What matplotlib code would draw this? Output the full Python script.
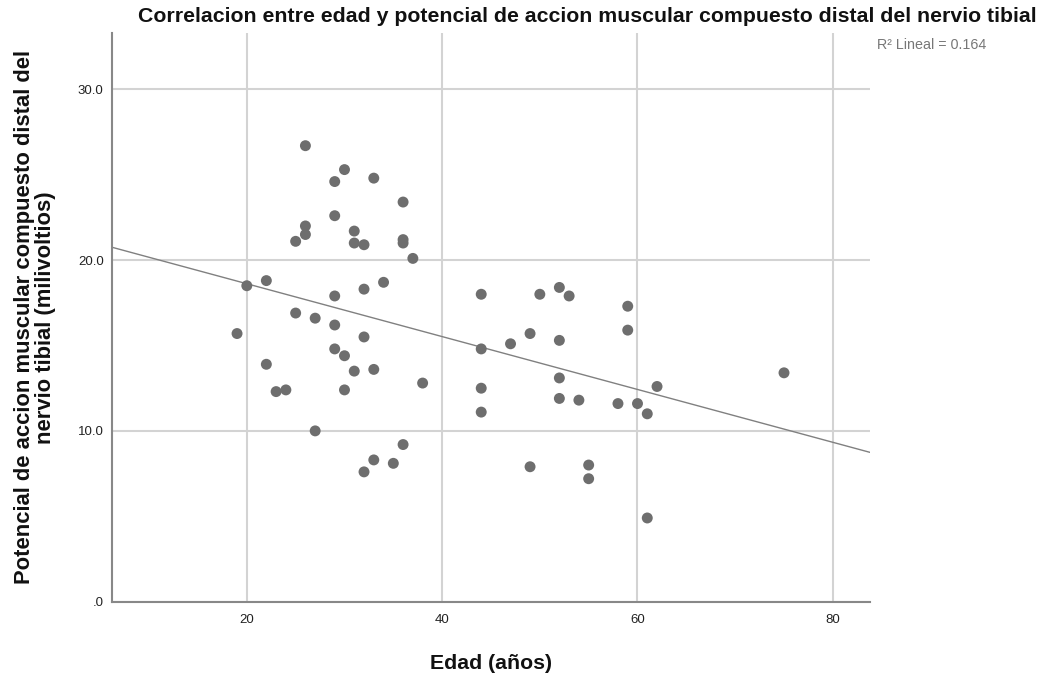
import numpy as np
import matplotlib
matplotlib.use("Agg")
import matplotlib.pyplot as plt

plt.rcParams['font.family'] = ['Liberation Sans', 'DejaVu Sans']

edad = [26, 30, 33, 29, 36, 29, 26, 26, 25, 31, 31, 32, 36, 36, 37, 22, 20, 34, 32, 29, 25, 27,
        29, 32, 19, 29, 30, 22, 31, 33, 38, 23, 24, 30, 27, 36, 33, 35, 32,
        44, 50, 52, 53, 59, 59, 49, 47, 52, 44, 52, 75, 62, 44, 52, 54, 58, 60, 61, 44, 49, 55, 55, 61]
potencial = [26.7, 25.3, 24.8, 24.6, 23.4, 22.6, 22.0, 21.5, 21.1, 21.7, 21.0, 20.9, 21.2, 21.0, 20.1, 18.8, 18.5, 18.7, 18.3, 17.9, 16.9, 16.6,
             16.2, 15.5, 15.7, 14.8, 14.4, 13.9, 13.5, 13.6, 12.8, 12.3, 12.4, 12.4, 10.0, 9.2, 8.3, 8.1, 7.6,
             18.0, 18.0, 18.4, 17.9, 17.3, 15.9, 15.7, 15.1, 15.3, 14.8, 13.1, 13.4, 12.6, 12.5, 11.9, 11.8, 11.6, 11.6, 11.0, 11.1, 7.9, 8.0, 7.2, 4.9]

x_ticks = [20, 40, 60, 80]
y_ticks = [0, 10, 20, 30]
y_tick_labels = ['.0', '10.0', '20.0', '30.0']
r2_label = 'R² Lineal = 0.164'

fig = plt.figure(figsize=(10.46, 6.73), dpi=100)
ax = fig.add_axes([0.1071, 0.106, 0.7246, 0.845])

xmin, xmax = 6.2, 83.8
ymin, ymax = 0, 33.3
ax.set_xlim(xmin, xmax)
ax.set_ylim(ymin, ymax)

ax.grid(True, color='#d3d3d3', linewidth=1.5, zorder=0)
ax.set_axisbelow(True)
ax.set_xticks(x_ticks)
ax.set_yticks(y_ticks)
ax.set_yticklabels(y_tick_labels)
ax.tick_params(axis='both', length=0, labelsize=9.5, colors='#222222')
ax.tick_params(axis='x', pad=9)
ax.tick_params(axis='y', pad=6)

for s in ['top', 'right']:
    ax.spines[s].set_visible(False)
for s in ['left', 'bottom']:
    ax.spines[s].set_color('#888888')
    ax.spines[s].set_linewidth(1.5)

ax.scatter(edad, potencial, s=62, color='#6e6e6e', edgecolors='none', zorder=3)

coef = np.polyfit(edad, potencial, 1)
xl = np.array([xmin, xmax])
ax.plot(xl, np.polyval(coef, xl), color='#808080', linewidth=1.0, zorder=2)

fig.text(0.5615, 0.975, 'Correlacion entre edad y potencial de accion muscular compuesto distal del nervio tibial',
         ha='center', va='center', fontsize=15.3, fontweight='bold', color='#111111')
fig.text(0.838, 0.933, r2_label, ha='left', va='center', fontsize=10.3, color='#777777')
ax.set_xlabel('Edad (años)', fontsize=15.3, fontweight='bold', labelpad=20, color='#111111')
ax.set_ylabel('Potencial de accion muscular compuesto distal del\nnervio tibial (milivoltios)',
              fontsize=15.8, fontweight='bold', labelpad=20, color='#111111', linespacing=1.0)
ax.yaxis.set_label_coords(-0.0735, 0.5)

fig.savefig('out.png', dpi=100)
